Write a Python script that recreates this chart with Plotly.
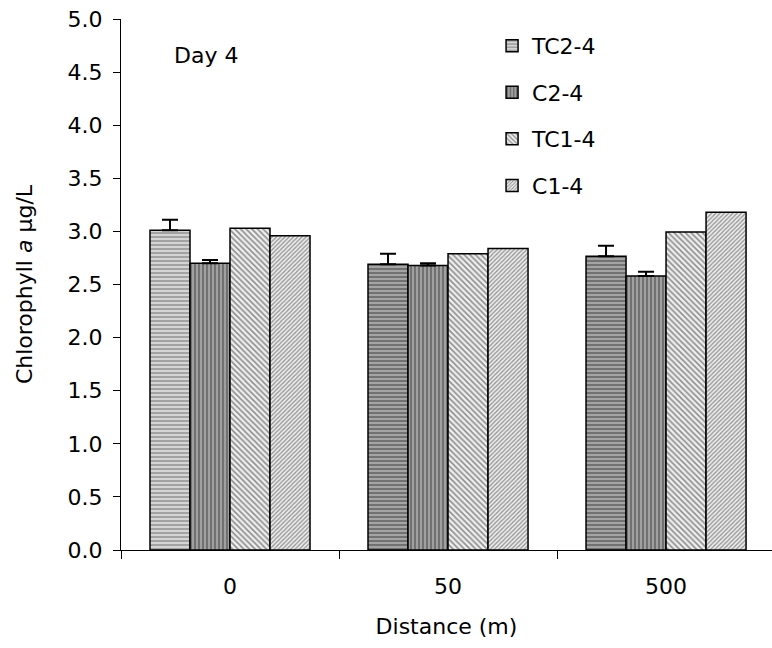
import plotly.graph_objects as go

distances = ["0", "50", "500"]
series_names = ["TC2-4", "C2-4", "TC1-4", "C1-4"]
tc2_vals = [3.01, 2.69, 2.765]
c2_vals = [2.70, 2.68, 2.58]
tc1_vals = [3.03, 2.79, 2.995]
c1_vals = [2.96, 2.84, 3.18]
tc2_err = [0.10, 0.10, 0.10]
c2_err = [0.03, 0.02, 0.04]

FONT = "DejaVu Sans, Liberation Sans, Arial, sans-serif"
FS = 22

fig = go.Figure()

def add(name, vals, shape, fg, bg, size, solidity, err=None):
    kw = {}
    if err is not None:
        kw["error_y"] = dict(type="data", array=err, arrayminus=[0] * len(err),
                             symmetric=False, color="black", thickness=2, width=8)
    fig.add_trace(go.Bar(
        name=name, x=distances, y=vals, legendgroup=name,
        marker=dict(color=bg if isinstance(bg, str) else bg[0],
                    line=dict(color="black", width=1.5),
                    pattern=dict(shape=shape, fgcolor=fg, bgcolor=bg,
                                 size=size, solidity=solidity, fillmode="overlay")),
        **kw))

add(series_names[0], tc2_vals, "-", ["#666666", "#333333", "#333333"],
    ["#d4d4d4", "#a4a4a4", "#a4a4a4"], 4, 0.45, tc2_err)
add(series_names[1], c2_vals, "|", "#2a2a2a", "#a0a0a0", 4, 0.4, c2_err)
add(series_names[2], tc1_vals, "\\", "#2a2a2a", "#eeeeee", 4, 0.38)
add(series_names[3], c1_vals, "/", "#333333", "#eeeeee", 3, 0.42)

fig.update_layout(
    width=772, height=648,
    margin=dict(l=121, r=0, t=19, b=98),
    paper_bgcolor="white", plot_bgcolor="white",
    barmode="group", bargap=0.266, bargroupgap=0,
    font=dict(family=FONT, size=FS, color="black"),
    showlegend=True,
    legend=dict(x=0.57, y=0.989, xanchor="left", yanchor="top",
                bgcolor="rgba(0,0,0,0)", font=dict(size=FS, family=FONT),
                traceorder="grouped", tracegroupgap=15, itemwidth=30),
    xaxis=dict(type="category", range=[-0.5, 2.486], showline=True, linecolor="black",
               linewidth=1, ticks="outside", tickson="boundaries", ticklen=8,
               tickcolor="black", showgrid=False, zeroline=False,
               ticklabelstandoff=17,
               tickfont=dict(size=FS, family=FONT),
               title=dict(text="Distance (m)", font=dict(size=FS, family=FONT), standoff=20)),
    yaxis=dict(range=[0, 5], dtick=0.5, tickformat=".1f", showline=True, linecolor="black",
               linewidth=1, ticks="outside", ticklen=7, tickcolor="black",
               showgrid=False, zeroline=False, ticklabelstandoff=6,
               tickfont=dict(size=FS, family=FONT),
               title=dict(text="Chlorophyll <i>a</i> µg/L", font=dict(size=FS, family=FONT),
                          standoff=28)),
    annotations=[dict(text="Day 4", x=0.078, y=0.932, xref="paper", yref="paper",
                      xanchor="left", yanchor="middle", showarrow=False,
                      font=dict(size=FS, family=FONT))],
)

fig.write_html("out.html")
